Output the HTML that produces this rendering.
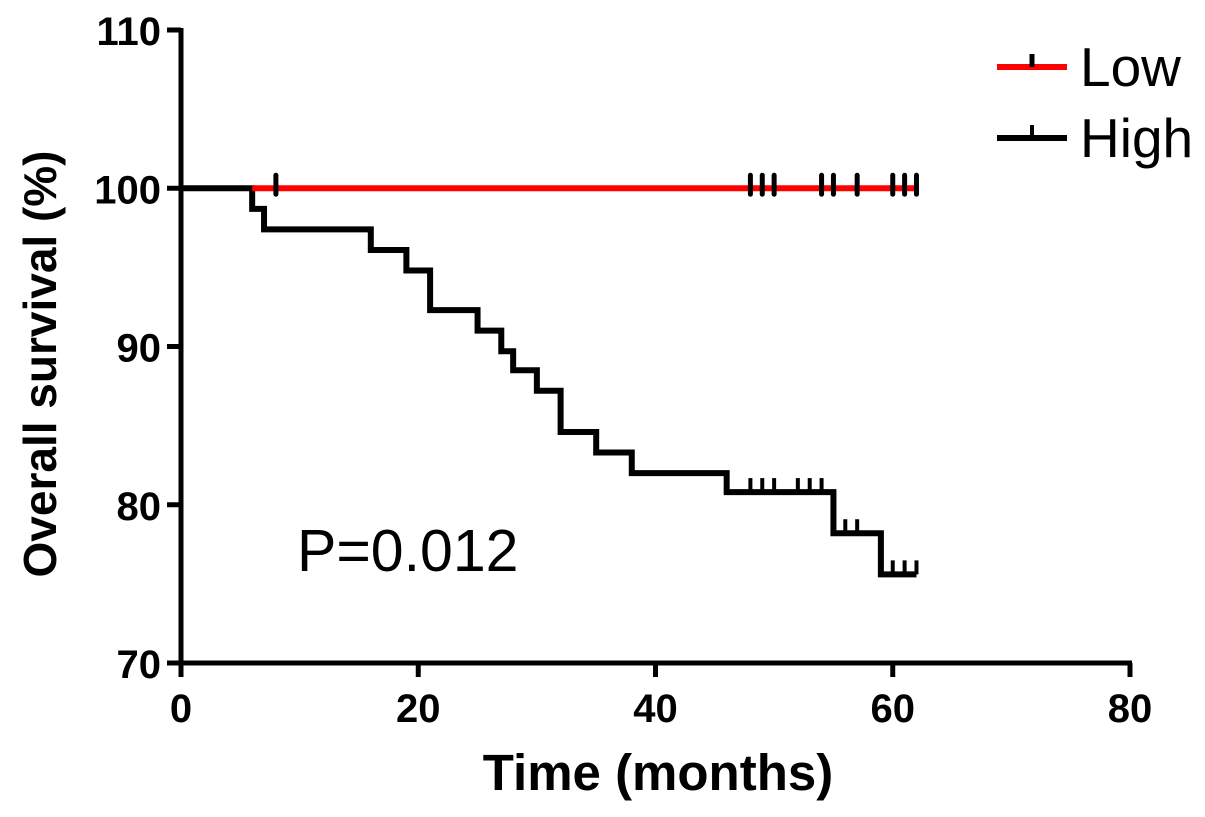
<!DOCTYPE html>
<html><head><style>
body{margin:0;background:#fff;}
svg{display:block;font-family:"Liberation Sans",Arial,sans-serif;}
</style></head><body>
<svg id="chart" width="1205" height="817">
<g id="axes"></g><g id="series"></g>
<g>
<line x1="997" y1="67" x2="1067" y2="67" stroke="#f00" stroke-width="6"/>
<line x1="1032" y1="54" x2="1032" y2="67" stroke="#000" stroke-width="5"/>
<text x="1080" y="86" font-size="55">Low</text>
<line x1="997" y1="138" x2="1067" y2="138" stroke="#000" stroke-width="6"/>
<line x1="1032" y1="125" x2="1032" y2="138" stroke="#000" stroke-width="4"/>
<text x="1080" y="157" font-size="55">High</text>
</g>
<text x="297" y="571" font-size="59">P=0.012</text>
<text x="658" y="790" font-size="51" font-weight="bold" text-anchor="middle">Time (months)</text>
<text transform="translate(56,364) rotate(-90)" font-size="46" font-weight="bold" text-anchor="middle">Overall survival (%)</text>
</svg>
<script>
const xTicks=[0,20,40,60,80];
const yTicks=[70,80,90,100,110];
const lowSteps=[[0,100],[62,100]];
const lowCensor=[8,48,49,50,54,55,57,60,61,62];
const highTimes=[0,6,7,16,19,21,25,27,28,30,32,35,38,46,55,59,62];
const highValues=[100,98.7,97.4,96.1,94.8,92.3,91,89.7,88.5,87.2,84.6,83.3,82.0,80.8,78.2,75.6,75.6];
const highCensor=[48,49,50,52,53,54,56,57,60,61,62];

const X=m=>181+m*(1130-181)/80;
const Y=v=>663-(v-70)*(663-30)/40;
const NS='http://www.w3.org/2000/svg';
function mk(tag,attrs,parent){const e=document.createElementNS(NS,tag);for(const k in attrs)e.setAttribute(k,attrs[k]);parent.appendChild(e);return e;}
const ax=document.getElementById('axes'),se=document.getElementById('series');
let l=mk('line',{x1:X(0),y1:Y(110)-2,x2:X(0),y2:Y(70)+2,stroke:'#000','stroke-width':5},ax);


l=mk('line',{x1:X(0)-2,y1:Y(70),x2:X(80)+2,y2:Y(70),stroke:'#000','stroke-width':5},ax);


xTicks.forEach(t=>{
 let k=mk('line',{x1:X(t),y1:Y(70),x2:X(t),y2:Y(70)+14,stroke:'#000','stroke-width':5},ax);
 
 
 let s=mk('text',{x:X(t),y:722,'font-size':40,'font-weight':'bold','text-anchor':'middle'},ax);s.textContent=t;
 
 
});
yTicks.forEach(t=>{
 let k=mk('line',{x1:X(0)-14,y1:Y(t),x2:X(0),y2:Y(t),stroke:'#000','stroke-width':5},ax);
 
 
 let s=mk('text',{x:161,y:Y(t)+15,'font-size':40,'font-weight':'bold','text-anchor':'end'},ax);s.textContent=t;
 
 
});
let d='M'+X(highTimes[0])+','+Y(highValues[0]);
for(let i=1;i<highTimes.length;i++){d+=' H'+X(highTimes[i])+' V'+Y(highValues[i]);}
let p=mk('path',{d:d,fill:'none',stroke:'#000','stroke-width':6},se);


function survAt(t){let v=highValues[0];for(let i=0;i<highTimes.length;i++){if(highTimes[i]<=t)v=highValues[i];}return v;}
highCensor.forEach(t=>{
 let c=mk('line',{x1:X(t),y1:Y(survAt(t)),x2:X(t),y2:Y(survAt(t))-14,stroke:'#000','stroke-width':4},se);
 
 
});
p=mk('line',{x1:X(6),y1:Y(lowSteps[0][1]),x2:X(lowSteps[1][0]),y2:Y(lowSteps[1][1]),stroke:'#f00','stroke-width':6},se);


lowCensor.forEach(t=>{
 let c=mk('line',{x1:X(t),y1:Y(100)+6,x2:X(t),y2:Y(100)-13,stroke:'#000','stroke-width':5,'stroke-linecap':'round'},se);
 
 
});
</script>
</body></html>
